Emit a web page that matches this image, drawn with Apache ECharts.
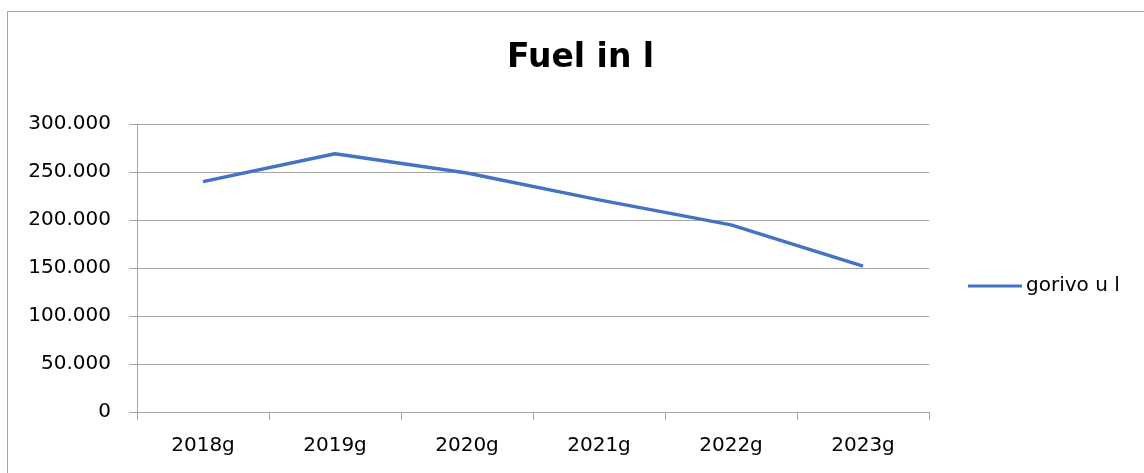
<!DOCTYPE html>
<html>
<head>
<meta charset="utf-8">
<script src="https://cdn.jsdelivr.net/npm/echarts@6/dist/echarts.min.js"></script>
<style>
html,body{margin:0;padding:0;background:#fff;}
#chart{width:1144px;height:473px;}
</style>
</head>
<body>
<div id="chart"></div>
<script>
var categories = ['2018g', '2019g', '2020g', '2021g', '2022g', '2023g'];
var fuelValues = [240000, 269000, 249000, 221000, 195000, 152000];
var seriesName = 'gorivo u l';
var chartTitle = 'Fuel in l';
var yMin = 0, yMax = 300000, yStep = 50000;

function fmt(v) {
  return String(v).replace(/\B(?=(\d{3})+(?!\d))/g, '.');
}

var chart = echarts.init(document.getElementById('chart'));
var FONT = 'DejaVu Sans';
chart.setOption({
  animation: false,
  backgroundColor: '#ffffff',
  title: {
    text: chartTitle,
    left: 507,
    top: 42,
    padding: 0,
    textStyle: { fontFamily: FONT, fontSize: 33, fontWeight: 'bold', color: '#000' }
  },
  legend: {
    left: 968,
    top: 276,
    padding: 0,
    itemWidth: 54,
    itemHeight: 3,
    itemGap: 4,
    icon: 'rect',
    data: [{ name: seriesName, icon: 'rect' }],
    textStyle: { fontFamily: FONT, fontSize: 20, color: '#000', padding: [0, 0, 0, -1] }
  },
  grid: { left: 137, right: 215, top: 124, bottom: 61 },
  xAxis: {
    type: 'category',
    data: categories,
    boundaryGap: true,
    axisLine: { lineStyle: { color: '#a6a6a6', width: 1 } },
    axisTick: { show: true, length: 8, alignWithLabel: false, lineStyle: { color: '#a6a6a6' } },
    axisLabel: { fontFamily: FONT, fontSize: 20, color: '#000', margin: 24 },
    splitLine: { show: false }
  },
  yAxis: {
    type: 'value',
    min: yMin,
    max: yMax,
    interval: yStep,
    axisLine: { show: true, lineStyle: { color: '#a6a6a6', width: 1 } },
    axisTick: { show: true, length: 8, lineStyle: { color: '#a6a6a6' } },
    axisLabel: { fontFamily: FONT, fontSize: 20, color: '#000', margin: 26, formatter: fmt },
    splitLine: { show: true, lineStyle: { color: '#a6a6a6', width: 1 } }
  },
  series: [{
    name: seriesName,
    type: 'line',
    data: fuelValues,
    symbol: 'none',
    lineStyle: { color: '#4472c4', width: 3.4 },
    itemStyle: { color: '#4472c4' }
  }],
  graphic: [{
    type: 'rect',
    silent: true,
    shape: { x: 7.5, y: 11.5, width: 1300, height: 700 },
    style: { fill: null, stroke: '#a6a6a6', lineWidth: 1 }
  }]
});
</script>
</body>
</html>
